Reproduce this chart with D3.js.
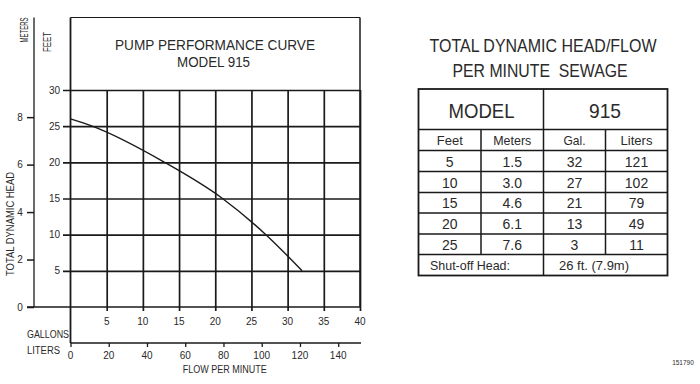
<!DOCTYPE html>
<html><head><meta charset="utf-8">
<script src="https://cdn.jsdelivr.net/npm/d3@7"></script>
<style>body{margin:0;background:#fff}svg{display:block;font-family:"Liberation Sans",Arial,sans-serif}text{white-space:pre}</style>
</head><body><svg id="c" width="700" height="384"></svg>
<script>
// Data
const curveGallons = [0, 3, 13, 21, 27, 32];
const curveFeet    = [26, 25, 20, 15, 10, 5];
const feetTicks    = [5, 10, 15, 20, 25, 30];
const meterTicks   = [0, 2, 4, 6, 8];
const gallonTicks  = [5, 10, 15, 20, 25, 30, 35, 40];
const literTicks   = [0, 20, 40, 60, 80, 100, 120, 140];
const tableFeet    = ["5", "10", "15", "20", "25"];
const tableMeters  = ["1.5", "3.0", "4.6", "6.1", "7.6"];
const tableGal     = ["32", "27", "21", "13", "3"];
const tableLiters  = ["121", "102", "79", "49", "11"];
const tableHeaders = ["Feet", "Meters", "Gal.", "Liters"];

const svg = d3.select("#c");
const ink = "#1a1a1a", txt = "#2a2a2a";

const x  = d3.scaleLinear().domain([0, 40]).range([70.5, 360]);
const xL = d3.scaleLinear().domain([0, 40 * 3.785]).range([70.5, 360]);
const y  = d3.scaleLinear().domain([0, 30]).range([307, 90]);
const yM = d3.scaleLinear().domain([0, 30 * 0.3048]).range([307, 90]);

function t(xp, yp, s, size, opts = {}) {
  const e = svg.append("text").attr("x", xp).attr("y", yp).attr("fill", txt)
    .attr("font-size", size).attr("text-anchor", opts.anchor || "middle")
    .attr("dominant-baseline", "central").text(s);
  if (opts.len) e.attr("textLength", opts.len).attr("lengthAdjust", "spacingAndGlyphs");
  if (opts.rot) e.attr("transform", `rotate(-90,${xp},${yp})`);
  return e;
}

// frame
svg.append("line").attr("x1", 70.5).attr("x2", 360).attr("y1", 17.5).attr("y2", 17.5).attr("stroke", ink).attr("stroke-width", 1.2);
svg.append("line").attr("x1", 360).attr("x2", 360).attr("y1", 17.5).attr("y2", 307).attr("stroke", ink).attr("stroke-width", 1.5);
svg.append("line").attr("x1", 70.5).attr("x2", 70.5).attr("y1", 17.5).attr("y2", 343).attr("stroke", ink).attr("stroke-width", 1.8);
svg.append("line").attr("x1", 34).attr("x2", 34).attr("y1", 17.5).attr("y2", 307).attr("stroke", ink).attr("stroke-width", 1.3);

// feet axis / gridlines
const gy = svg.append("g").attr("transform", "translate(360,0)")
  .call(d3.axisLeft(y).tickValues(feetTicks).tickSize(297).tickFormat(""));
gy.select(".domain").remove();
gy.selectAll(".tick line").attr("stroke", ink).attr("stroke-width", 1.7);
feetTicks.forEach(v => t(60, y(v), v, 10, {anchor: "end"}));
// zero line extends to meter axis
svg.append("line").attr("x1", 27).attr("x2", 360).attr("y1", y(0)).attr("y2", y(0)).attr("stroke", ink).attr("stroke-width", 1.7);

// meters axis
const gm = svg.append("g").attr("transform", "translate(34,0)")
  .call(d3.axisLeft(yM).tickValues(meterTicks).tickSize(7).tickFormat(""));
gm.select(".domain").remove();
gm.selectAll(".tick line").attr("stroke", ink).attr("stroke-width", 1.5);
meterTicks.forEach(v => t(20, yM(v), v, 10, {anchor: "middle"}));

// gallons vertical gridlines
const gx = svg.append("g").attr("transform", "translate(0,311)")
  .call(d3.axisTop(x).tickValues(gallonTicks).tickSize(221).tickFormat(""));
gx.select(".domain").remove();
gx.selectAll(".tick line").attr("stroke", ink).attr("stroke-width", 1.7);
gallonTicks.forEach(v => t(x(v), 321, v, 10));

// liters axis
const gl = svg.append("g").attr("transform", "translate(0,343)")
  .call(d3.axisBottom(xL).tickValues(literTicks).tickSize(4).tickFormat(""));
gl.select(".domain").attr("stroke", ink).attr("stroke-width", 1.3).attr("d", "M70.5,0H361");
gl.selectAll(".tick line").attr("stroke", ink).attr("stroke-width", 1.3);
literTicks.forEach(v => t(xL(v), 355.5, v, 10));

// curve
const pts = curveGallons.map((g, i) => [g, curveFeet[i]]);
svg.append("path").datum(pts)
  .attr("d", d3.line().x(d => x(d[0])).y(d => y(d[1])).curve(d3.curveMonotoneX))
  .attr("fill", "none").attr("stroke", ink).attr("stroke-width", 1.4);

// labels
t(215, 45, "PUMP PERFORMANCE CURVE", 14, {len: 200});
t(213.5, 62, "MODEL 915", 14, {len: 73});
t(24, 30, "METERS", 10, {len: 25, rot: true});
t(47, 42, "FEET", 10, {len: 20, rot: true});
t(10, 224, "TOTAL DYNAMIC HEAD", 10, {len: 104, rot: true});
t(27, 334, "GALLONS", 10, {anchor: "start", len: 42});
t(27, 350, "LITERS", 10, {anchor: "start", len: 33});
t(224.7, 369, "FLOW PER MINUTE", 10, {len: 84});

// table title
t(543, 45, "TOTAL DYNAMIC HEAD/FLOW", 19, {len: 227});
t(540, 70, "PER MINUTE  SEWAGE", 19, {len: 175});

// table
const cols = [418.5, 481, 543.5, 605.5, 667.5];
const rowsY = [89, 129.5, 150.5, 171.5, 192.5, 213, 234, 254.5, 275.5];
const tb = svg.append("g").attr("stroke", ink).attr("stroke-width", 1.5).attr("fill", "none");
tb.append("rect").attr("x", cols[0]).attr("y", rowsY[0]).attr("width", cols[4] - cols[0]).attr("height", rowsY[8] - rowsY[0]).attr("stroke-width", 1.8);
rowsY.slice(1, 8).forEach(yy => tb.append("line").attr("x1", cols[0]).attr("x2", cols[4]).attr("y1", yy).attr("y2", yy));
tb.append("line").attr("x1", cols[2]).attr("x2", cols[2]).attr("y1", rowsY[0]).attr("y2", rowsY[8]);
[cols[1], cols[3]].forEach(cx => tb.append("line").attr("x1", cx).attr("x2", cx).attr("y1", rowsY[1]).attr("y2", rowsY[7]));

const cc = i => (cols[i] + cols[i + 1]) / 2;
t(481.5, 110, "MODEL", 21, {len: 66});
t(605, 110, "915", 21, {len: 32});
const hl = [26, 38, 22, 32];
tableHeaders.forEach((h, i) => t(cc(i), 140.5, h, 13.5, {len: hl[i]}));
[tableFeet, tableMeters, tableGal, tableLiters].forEach((col, i) => {
  col.forEach((v, r) => t(cc(i), (rowsY[r + 2] + rowsY[r + 3]) / 2 + 0.5, v, 14));
});
t(430, 265.5, "Shut-off Head:", 13.5, {anchor: "start", len: 80});
t(594, 265.5, "26 ft. (7.9m)", 13.5, {len: 70});

t(683, 362, "151790", 6.5);
</script></body></html>
